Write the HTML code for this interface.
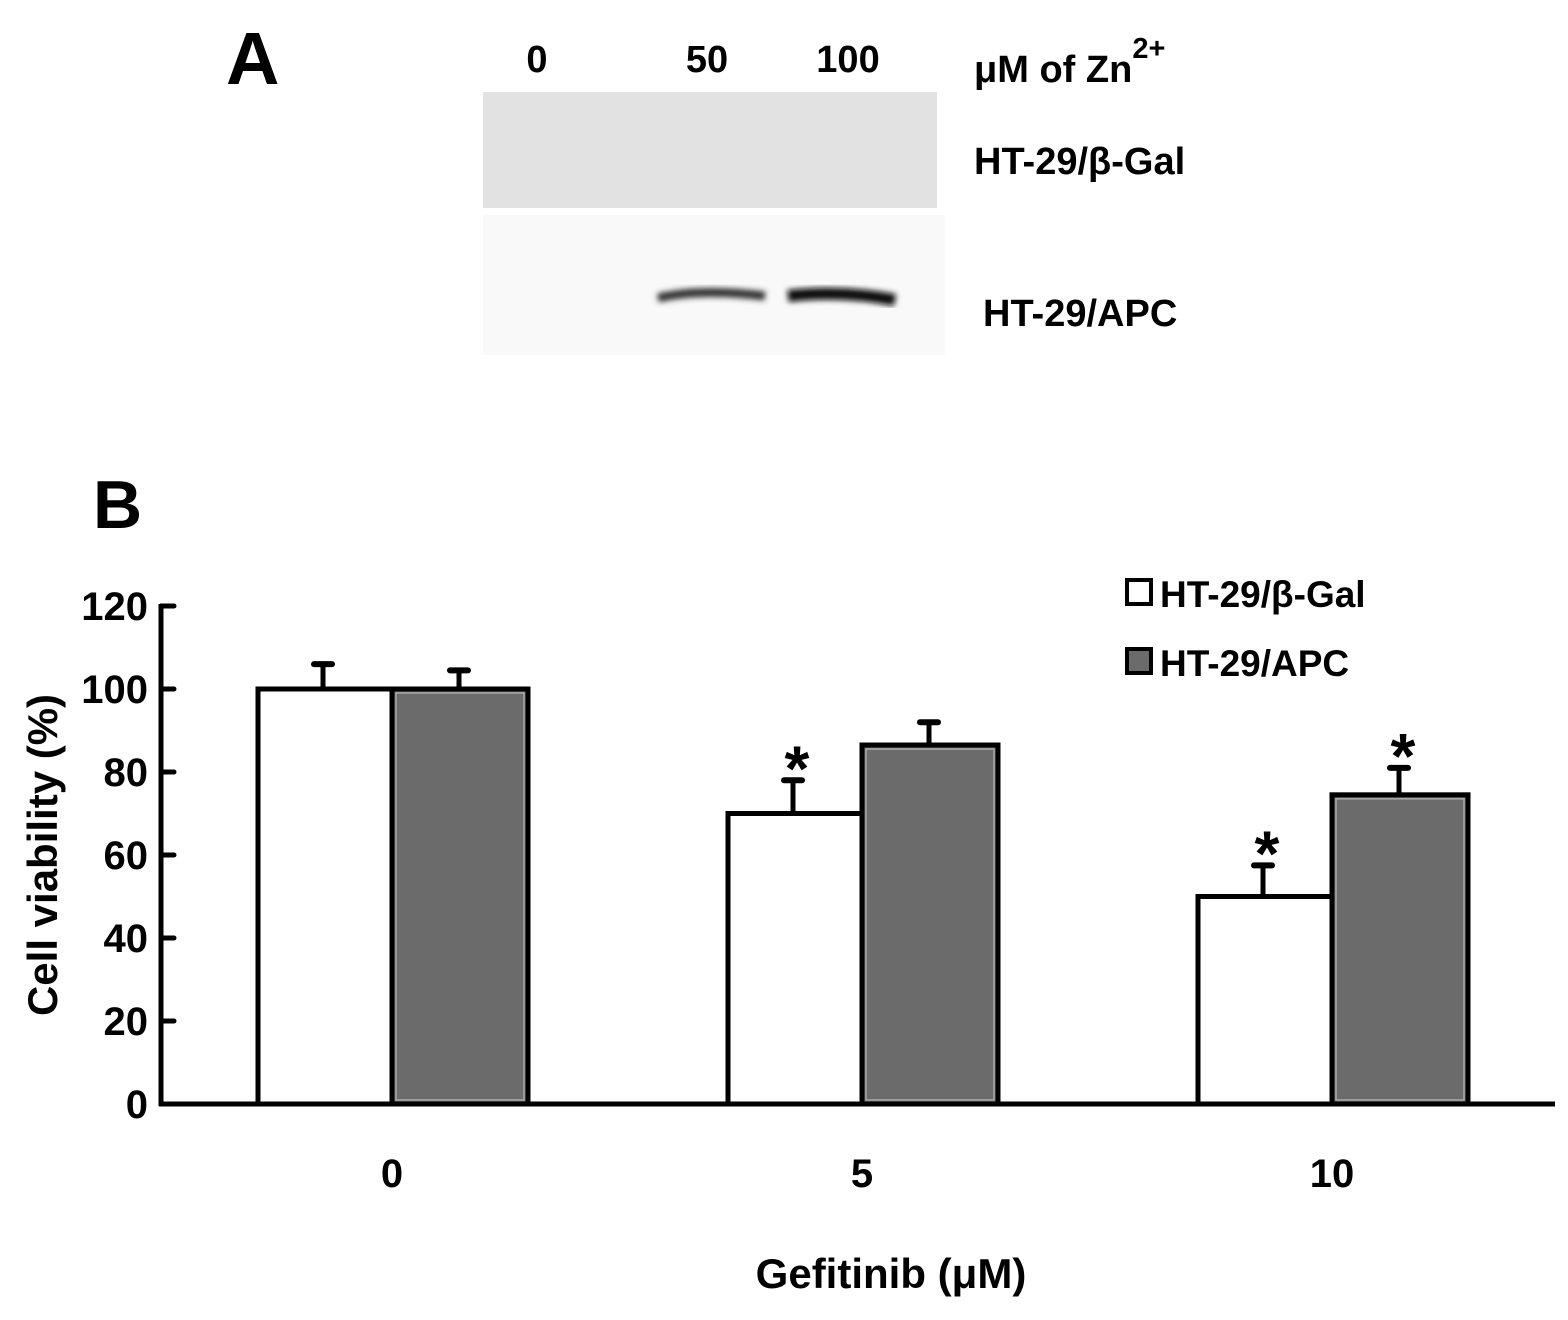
<!DOCTYPE html>
<html><head><meta charset="utf-8"><style>
body{margin:0;background:#fff;}
svg text{font-family:"Liberation Sans",sans-serif;font-weight:bold;fill:#000;}
</style></head><body>
<svg width="1568" height="1315" viewBox="0 0 1568 1315" xmlns="http://www.w3.org/2000/svg">
<defs>
<filter id="blur" x="-20%" y="-100%" width="140%" height="300%"><feGaussianBlur stdDeviation="3"/></filter>
</defs>
<!-- Panel A -->
<text x="226" y="84" font-size="74">A</text>
<text x="537" y="72" font-size="38" text-anchor="middle">0</text>
<text x="707" y="72" font-size="38" text-anchor="middle">50</text>
<text x="848" y="72" font-size="38" text-anchor="middle">100</text>
<text x="974" y="82" font-size="38">μM of Zn<tspan dy="-24" font-size="29">2+</tspan></text>
<rect x="483" y="92" width="454" height="116" fill="#e2e2e2"/>
<rect x="483" y="215" width="462" height="140" fill="#f9f9f9"/>
<g filter="url(#blur)">
<path d="M658 298 Q700 288 765 296" stroke="#333" stroke-width="9" fill="none"/>
<path d="M788 296 Q840 290 895 300" stroke="#0a0a0a" stroke-width="12" fill="none"/>
</g>
<text x="974" y="174" font-size="38">HT-29/β-Gal</text>
<text x="983" y="326" font-size="38">HT-29/APC</text>
<!-- Panel B -->
<text x="93" y="528" font-size="68">B</text>
<g id="chart"></g>
<text x="0" y="0" font-size="42" transform="translate(57 855) rotate(-90)" text-anchor="middle">Cell viability (%)</text>
<text x="891" y="1288" font-size="42" text-anchor="middle">Gefitinib (μM)</text>
<rect x="1127" y="580" width="24" height="24" fill="#fff" stroke="#000" stroke-width="4"/>
<text x="1160" y="607" font-size="37">HT-29/β-Gal</text>
<rect x="1127" y="649" width="24" height="24" fill="#6b6b6b" stroke="#000" stroke-width="4"/>
<text x="1160" y="676" font-size="37">HT-29/APC</text>
</svg>
<script>
const categories = ["0", "5", "10"];
const betaGal = [100, 70, 50];
const betaGalErr = [6, 8, 7.5];
const apc = [100, 86.5, 74.5];
const apcErr = [4.5, 5.5, 6.5];
const sigBeta = [false, true, true];
const sigApc = [false, false, true];
const yTicks = [0, 20, 40, 60, 80, 100, 120];

const NS = "http://www.w3.org/2000/svg";
const g = document.getElementById("chart");
const y0 = 1104, yTop = 606, yMax = 120;
const y = v => y0 - (v / yMax) * (y0 - yTop);
const groupCenter = i => 392 + i * 470;
const barW = 134;
function mk(tag, attrs, parent) {
  const e = document.createElementNS(NS, tag);
  for (const k in attrs) e.setAttribute(k, attrs[k]);
  (parent || g).appendChild(e);
  return e;
}
let ax = mk("line", {x1: 161, y1: yTop - 2, x2: 161, y2: y0 + 2, stroke: "#000", "stroke-width": 5});


let xa = mk("line", {x1: 159, y1: y0, x2: 1555, y2: y0, stroke: "#000", "stroke-width": 5});


yTicks.forEach(t => {
  const tk = mk("line", {x1: 161, y1: y(t), x2: 174, y2: y(t), stroke: "#000", "stroke-width": 5, "stroke-linecap": "round"});
  
  
  const tl = mk("text", {x: 148, y: y(t) + 14, "font-size": 40, "text-anchor": "end"});
  tl.textContent = t;
  
  
});
function bar(cx, v, err, name) {
  const top = y(v);
  const eTop = y(v + err);
  const el = mk("line", {x1: cx, y1: top, x2: cx, y2: eTop, stroke: "#000", "stroke-width": 5});
  
  
  const cap = mk("line", {x1: cx - 9, y1: eTop, x2: cx + 9, y2: eTop, stroke: "#000", "stroke-width": 6, "stroke-linecap": "round"});
  
  
  return {top, eTop};
}
categories.forEach((c, i) => {
  const cx = groupCenter(i);
  const b1 = mk("rect", {x: cx - barW, y: y(betaGal[i]), width: barW, height: y0 - y(betaGal[i]), fill: "#fff", stroke: "#000", "stroke-width": 5});
  
  
  const b2 = mk("rect", {x: cx, y: y(apc[i]), width: barW + 2, height: y0 - y(apc[i]), fill: "#6b6b6b", stroke: "#000", "stroke-width": 5});
  
  
  const inner = mk("rect", {x: cx + 4, y: y(apc[i]) + 4, width: barW - 6, height: y0 - y(apc[i]) - 8, fill: "none", stroke: "#aaa", "stroke-width": 1.5});
  
  
  const e1 = bar(cx - barW / 2 - 2, betaGal[i], betaGalErr[i], 'beta-gal-' + c);
  const e2 = bar(cx + barW / 2, apc[i], apcErr[i], 'apc-' + c);
  if (sigBeta[i]) {
    const s = mk("text", {x: cx - barW / 2 + 2, y: e1.eTop + 10, "font-size": 64, "text-anchor": "middle"});
    s.textContent = "*";
    
    
  }
  if (sigApc[i]) {
    const s = mk("text", {x: cx + barW / 2 + 4, y: e2.eTop + 10, "font-size": 64, "text-anchor": "middle"});
    s.textContent = "*";
    
    
  }
  const xl = mk("text", {x: cx, y: 1187, "font-size": 40, "text-anchor": "middle"});
  xl.textContent = c;
  
  
});
</script>
</body></html>
